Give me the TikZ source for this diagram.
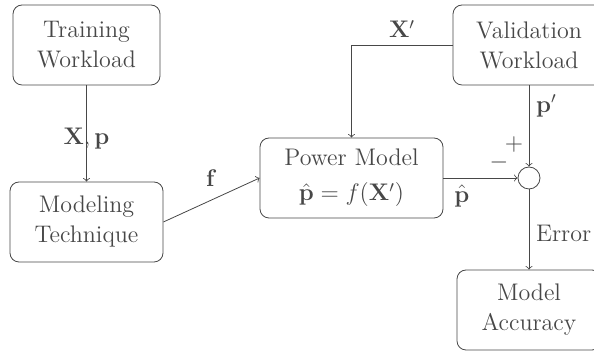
\documentclass[tikz,border=0pt]{standalone}
\usetikzlibrary{positioning}
\definecolor{ink}{HTML}{474747}
\tikzset{
  block/.style={draw=ink, text=ink, rounded corners=4.5pt, minimum height=40pt, align=center, font=\large},
  lbl/.style={text=ink, font=\large},
  flow/.style={draw=ink, ->},
}
\begin{document}
\begin{tikzpicture}[x=0.5pt,y=-0.5pt]
\path[use as bounding box] (0,0) rectangle (594,351);

\node[block, minimum width=73.5pt] (train) at (86.5,45) {Training\\[1pt]Workload};
\node[block, minimum width=76.5pt] (tech) at (86.5,222) {Modeling\\[1pt]Technique};
\node[block, minimum width=91.5pt] (power) at (351.5,178) {Power Model\\[3.5pt]$\hat{\mathbf{p}} = f(\mathbf{X}')$};
\node[block, minimum width=76pt] (valid) at (529,45) {Validation\\[1pt]Workload};
\node[block, minimum width=72pt] (acc) at (529,310) {Model\\[1pt]Accuracy};
\node[draw=ink, circle, minimum size=11pt, inner sep=0pt] (sum) at (529,178) {};

\path[flow] (train) -- node[lbl, pos=0.55] {$\mathbf{X},\mathbf{p}$} (tech);
\path[flow] (tech.east) -- node[lbl, above=3pt] {$\mathbf{f}$} (power.west);
\path[flow] (valid.west) -| node[lbl, pos=0.25, above] {$\mathbf{X}'$} (power.north);
\path[flow] (valid) -- node[lbl, right, pos=0.25] {$\mathbf{p}'$} (sum);
\path[flow] (power.east) -- node[lbl, below, pos=0.25] {$\hat{\mathbf{p}}$} (sum.west);
\path[flow] (sum) -- node[lbl, right, pos=0.55] {Error} (acc);

\node[lbl] (minus) at (499,163) {$-$};
\node[lbl] (plus) at (514,145) {$+$};
\end{tikzpicture}
\end{document}
